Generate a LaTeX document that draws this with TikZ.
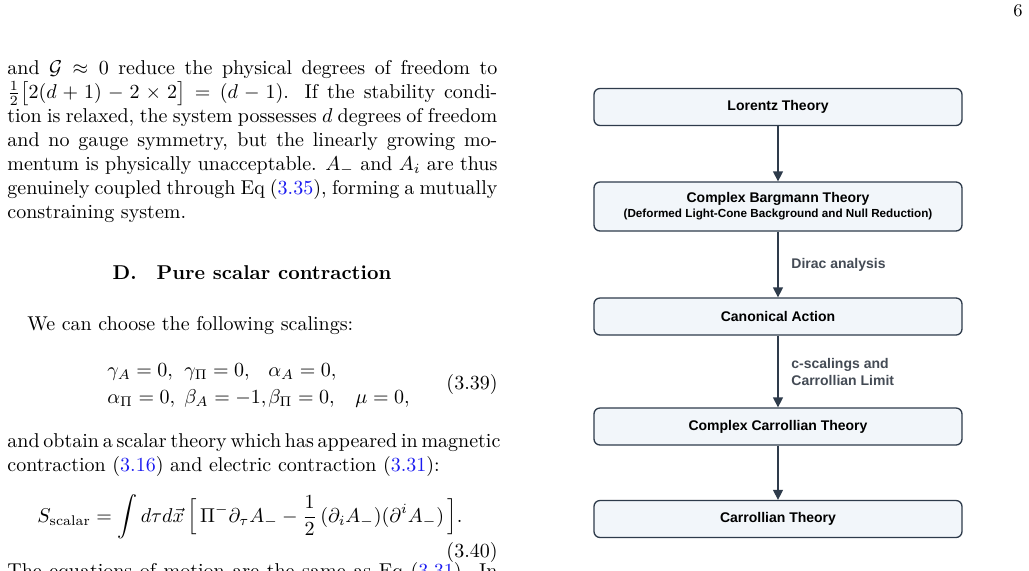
\documentclass[tikz,border=0pt]{standalone}
\usepackage{amsmath,amssymb}
\usepackage{fontspec}
\newfontfamily\flowfont{Liberation Sans}
\usetikzlibrary{arrows.meta}
\definecolor{boxfill}{HTML}{F2F6FA}
\definecolor{boxline}{HTML}{2E3B4B}
\definecolor{lbl}{HTML}{444B55}
\definecolor{lnk}{HTML}{1A1AF0}
\newcommand{\lk}[1]{\textcolor{lnk}{#1}}
\begin{document}
\begin{tikzpicture}[x=0.5pt,y=-0.5pt,
  box/.style={draw=boxline,line width=0.65pt,fill=boxfill,rounded corners=3pt,minimum width=184pt,minimum height=18.5pt,font=\flowfont\bfseries\fontsize{7}{8.5}\selectfont,align=center,inner sep=1pt},
  arr/.style={draw=boxline,line width=0.65pt,-{Triangle[length=5pt,width=5pt]}},
  lab/.style={font=\flowfont\bfseries\fontsize{7}{8.3}\selectfont,text=lbl,align=left,anchor=west,inner sep=0pt},
  txt/.style={anchor=north west,inner sep=0pt,text width=245pt,align=justify,font=\fontsize{10}{12}\selectfont},
  eq/.style={anchor=base west,inner sep=0pt,font=\fontsize{10}{12}\selectfont}]
\useasboundingbox (0,0) rectangle (1029,570);
\clip (0,0) rectangle (1029,570);
\node[anchor=north east,inner sep=0pt,font=\fontsize{9}{11}\selectfont] (pg) at (1023,4) {6};
\node[txt] (p1) at (7,60) {and $\mathcal{G}\approx 0$ reduce the physical degrees of freedom to\linebreak
$\frac12\big[2(d+1)-2\times 2\big]=(d-1)$. If the stability condi-\linebreak
tion is relaxed, the system possesses $d$ degrees of freedom\linebreak
and no gauge symmetry, but the linearly growing mo-\linebreak
mentum is physically unacceptable. $A_-$ and $A_i$ are thus\linebreak
genuinely coupled through Eq (\lk{3.35}), forming a mutually\linebreak
constraining system.};
\node[inner sep=0pt,font=\fontsize{10}{12}\selectfont] (sec) at (252,273) {\textbf{D.\quad Pure scalar contraction}};
\node[txt] (p2) at (7,316) {\hspace*{10pt}We can choose the following scalings:};
\node[eq] (e1) at (107,376) {$\gamma_A=0,$};
\node[eq] (e2) at (184,376) {$\gamma_\Pi=0,$};
\node[eq] (e3) at (268,376) {$\alpha_A=0,$};
\node[eq] (e4) at (107,403) {$\alpha_\Pi=0,$};
\node[eq] (e5) at (184,403) {$\beta_A=-1,$};
\node[eq] (e6) at (268,403) {$\beta_\Pi=0,$};
\node[eq] (e7) at (355,403) {$\mu=0,$};
\node[anchor=east,inner sep=0pt,font=\fontsize{10}{12}\selectfont] (n1) at (498,384) {(3.39)};
\node[anchor=north west,inner sep=0pt,font=\fontsize{10}{12}\selectfont,align=left] (p3) at (7,433) {\spaceskip=2.4pt plus 2pt minus 0.5pt\hbox to 245pt{and obtain a scalar theory which has appeared in magnetic}\\
contraction (\lk{3.16}) and electric contraction (\lk{3.31}):};
\node[anchor=west,inner sep=0pt,font=\fontsize{10}{12}\selectfont] (eq2) at (37,517)
 {$\displaystyle S_{\text{scalar}}=\int d\tau d\vec{x}\,\Big[\,\Pi^-\partial_\tau A_- -\frac12\,(\partial_iA_-)(\partial^iA_-)\,\Big].$};
\node[anchor=east,inner sep=0pt,font=\fontsize{10}{12}\selectfont] (n2) at (498,552) {(3.40)};
\node[txt] (p4) at (7,562) {The equations of motion are the same as Eq (\lk{3.31}). In this};
% flowchart
\node[box] (b1) at (778,107) {Lorentz Theory};
\node[box,minimum height=24.5pt] (b2) at (778,206.5) {Complex Bargmann Theory\\[-1pt]{\fontsize{5.85}{7}\selectfont (Deformed Light-Cone Background and Null Reduction)}};
\node[box] (b3) at (778,316.5) {Canonical Action};
\node[box] (b4) at (778,426.5) {Complex Carrollian Theory};
\node[box] (b5) at (778,519) {Carrollian Theory};
\draw[arr] (b1) -- (b2);
\draw[arr] (b2) -- (b3);
\draw[arr] (b3) -- (b4);
\draw[arr] (b4) -- (b5);
\node[lab] (l1) at (791,265) {Dirac analysis};
\node[lab] (l2) at (791,372) {c-scalings and\\Carrollian Limit};
\end{tikzpicture}
\end{document}
